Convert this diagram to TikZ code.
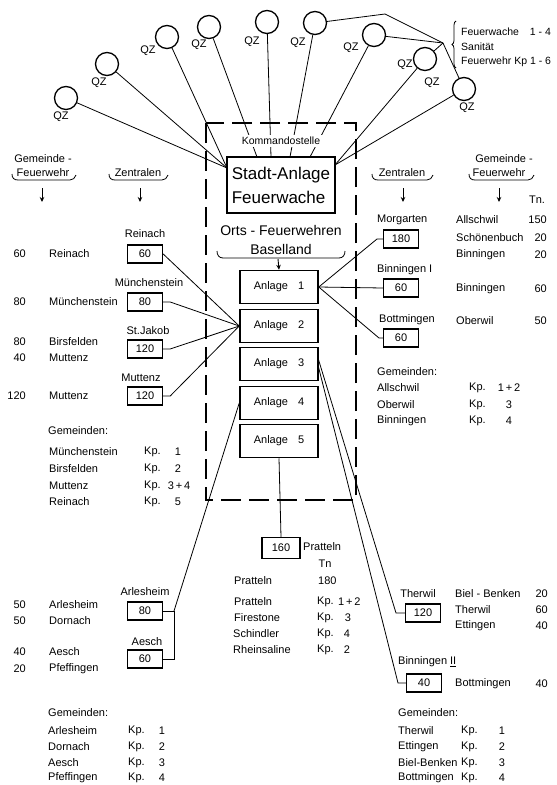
\documentclass[tikz,border=0pt]{standalone}
\usepackage{fontspec}
\setmainfont{Liberation Sans}
\usetikzlibrary{arrows.meta,decorations.pathreplacing}
\begin{document}
\begin{tikzpicture}[x=1pt,y=-1pt,
  every node/.style={font=\fontsize{11}{13}\selectfont, inner sep=0pt},
  qz/.style={circle,draw,line width=1.3pt,minimum size=23pt},
  numbox/.style={draw,line width=1.4pt,minimum width=35pt,minimum height=18pt},
  anl/.style={draw,line width=1.5pt,minimum width=78pt,minimum height=33pt},
  ln/.style={line width=0.8pt},
  lab/.style={anchor=west},
  num/.style={anchor=east},
  arr/.style={-{Stealth[length=5pt,width=4.5pt]},line width=0.9pt},
  brk/.style={line width=0.8pt},
]
\useasboundingbox (0,0) rectangle (557,785);

% ---------- dashed frame ----------
\draw[line width=1.1pt, dash pattern=on 20pt off 8pt] (206,123) rectangle (356,500);

% ---------- QZ circles ----------
\node[qz] (c1) at (66,98) {};
\node[qz] (c2) at (107,64) {};
\node[qz] (c3) at (167,37) {};
\node[qz] (c4) at (209,27) {};
\node[qz] (c5) at (267,22) {};
\node[qz] (c6) at (315,23) {};
\node[qz] (c7) at (374,35) {};
\node[qz] (c8) at (425,59) {};
\node[qz] (c9) at (464,89) {};
\node (q1) at (61,117) {QZ};
\node (q2) at (99,83) {QZ};
\node (q3) at (148,51) {QZ};
\node (q4) at (199,45) {QZ};
\node (q5) at (252,42) {QZ};
\node (q6) at (298,43) {QZ};
\node (q7) at (351,48) {QZ};
\node (q8) at (405,65) {QZ};
\node (q8b) at (432,83) {QZ};
\node (q9) at (467,108) {QZ};

% ---------- Stadt-Anlage ----------
\node[draw, line width=1.5pt, minimum width=108pt, minimum height=56pt, align=left,
      font=\fontsize{17}{24}\selectfont] (stadt) at (281,185) {Stadt-Anlage\\Feuerwache};
\coordinate (SL) at (227,168);
\coordinate (SR) at (335,165);
\coordinate (t4) at (257,157);
\coordinate (t5) at (271,157);
\coordinate (t6) at (290,157);
\coordinate (t7) at (310,157);
\draw[ln] (c1) -- (SL);
\draw[ln] (c2) -- (SL);
\draw[ln] (c3) -- (SL);
\draw[ln] (c4) -- (t4);
\draw[ln] (c5) -- (t5);
\draw[ln] (c6) -- (t6);
\draw[ln] (c7) -- (t7);
\draw[ln] (c8) -- (SR);
\draw[ln] (c9) -- (SR);
\node[fill=white, inner sep=2.5pt, font=\fontsize{10.5}{12}\selectfont] (komm) at (281,141) {Kommandostelle};

% ---------- Feuerwache bracket ----------
\coordinate (P) at (443,43);
\coordinate (k6) at (385,14);
\draw[ln] (c6) -- (k6) -- (P);
\draw[ln] (c7) -- (P);
\draw[ln] (c8) -- (P);
\draw[ln] (c9) -- (P);
\draw[ln, decorate, decoration={brace, amplitude=4pt}] (456,68) -- (456,21);
\node[lab, font=\fontsize{10.5}{12}\selectfont] (fw1) at (461,32) {Feuerwache\hspace{11pt}1 - 4};
\node[lab, font=\fontsize{10.5}{12}\selectfont] (fw2) at (461,47) {Sanität};
\node[lab, font=\fontsize{10.5}{12}\selectfont] (fw3) at (461,62) {Feuerwehr Kp 1 - 6};

% ---------- headers ----------
\node (hg1) at (43,159) {Gemeinde -};
\node (hf1) at (43,173) {Feuerwehr};
\draw[brk] (12,174) .. controls (12,178) and (14,180) .. (18,180) -- (70,180) .. controls (73,180) and (75,178) .. (76,175);
\draw[arr] (42,188) -- (42,202);
\node (hz1) at (138,173) {Zentralen};
\draw[brk] (109,174) .. controls (109,178) and (111,180) .. (115,180) -- (162,180) .. controls (165,180) and (167,178) .. (168,175);
\draw[arr] (140,188) -- (140,202);
\node (hz2) at (402,173) {Zentralen};
\draw[brk] (372,174) .. controls (372,178) and (374,180) .. (378,180) -- (427,180) .. controls (430,180) and (432,178) .. (433,175);
\draw[arr] (403,188) -- (403,202);
\node (hg2) at (504,159) {Gemeinde -};
\node (hf2) at (499,173) {Feuerwehr};
\draw[brk] (469,174) .. controls (469,178) and (471,180) .. (475,180) -- (528,180) .. controls (531,180) and (533,178) .. (534,175);
\draw[arr] (499,188) -- (499,202);
\node (htn) at (537,200) {Tn.};

% ---------- Orts-Feuerwehren ----------
\node[font=\fontsize{14}{19.5}\selectfont, align=center] (orts) at (281,240) {Orts - Feuerwehren\\Baselland};
\draw[brk] (217,251) .. controls (217,255) and (219,258) .. (223,258) -- (339,258) .. controls (343,258) and (345,255) .. (345,251);

% ---------- Anlagen ----------
\node[anl] (a1) at (279,287) {Anlage\hspace{10pt}1};
\node[anl] (a2) at (279,326) {Anlage\hspace{10pt}2};
\node[anl] (a3) at (279,364) {Anlage\hspace{10pt}3};
\node[anl] (a4) at (279,403) {Anlage\hspace{10pt}4};
\node[anl] (a5) at (279,441) {Anlage\hspace{10pt}5};
\coordinate (ob) at (278,259);
\draw[arr] (ob) -- (a1.north);

% ---------- left Zentralen ----------
\node (lr) at (145,234) {Reinach};
\node[numbox] (b60r) at (145,254) {60};
\node (lm) at (149,283) {Münchenstein};
\node[numbox] (b80m) at (145,302) {80};
\node (lj) at (148,331) {St.Jakob};
\node[numbox] (b120j) at (145,349) {120};
\node (lmu) at (141,378) {Muttenz};
\node[numbox] (b120m) at (145,396) {120};
\draw[ln] (b60r.east) -- (a2.west);
\draw[ln] (b80m.east) -- ++(7,0) -- (a2.west);
\draw[ln] (b120j.east) -- ++(7,0) -- (a2.west);
\draw[ln] (b120m.east) -- ++(7,0) -- (a2.west);

\node[num] (n1) at (26,254) {60};   \node[lab] (g1) at (49,254) {Reinach};
\node[num] (n2) at (26,302) {80};   \node[lab] (g2) at (49,302) {Münchenstein};
\node[num] (n3) at (26,342) {80};   \node[lab] (g3) at (49,342) {Birsfelden};
\node[num] (n4) at (26,358) {40};   \node[lab] (g4) at (49,358) {Muttenz};
\node[num] (n5) at (26,396) {120};  \node[lab] (g5) at (49,396) {Muttenz};

\node[lab] (lgem) at (48,431) {Gemeinden:};
\node[lab] (lk1) at (49,452) {Münchenstein}; \node[lab] (lkp1) at (144,452) {Kp.}; \node (lkn1) at (178,452) {1};
\node[lab] (lk2) at (49,469) {Birsfelden};   \node[lab] (lkp2) at (144,469) {Kp.}; \node (lkn2) at (178,469) {2};
\node[lab] (lk3) at (49,486) {Muttenz};      \node[lab] (lkp3) at (144,486) {Kp.}; \node (lkn3) at (179,486) {3\,+\,4};
\node[lab] (lk4) at (49,502) {Reinach};      \node[lab] (lkp4) at (144,502) {Kp.}; \node (lkn4) at (178,502) {5};

% ---------- right Zentralen ----------
\node[lab] (rm) at (377,220) {Morgarten};
\node[numbox] (b180) at (401,239) {180};
\node[lab] (rb) at (377,270) {Binningen I};
\node[numbox] (b60b) at (401,288) {60};
\node[lab] (rbo) at (379,320) {Bottmingen};
\node[numbox] (b60bo) at (401,338) {60};
\draw[ln] (a1.east) -- (377,239) -- (b180.west);
\draw[ln] (a1.east) -- (b60b.west);
\draw[ln] (a1.east) -- (379,338) -- (b60bo.west);

\node[lab] (rg1) at (456,220) {Allschwil};    \node[num] (rn1) at (547,220) {150};
\node[lab] (rg2) at (456,238) {Schönenbuch};  \node[num] (rn2) at (547,238) {20};
\node[lab] (rg3) at (456,255) {Binningen};    \node[num] (rn3) at (547,255) {20};
\node[lab] (rg4) at (456,289) {Binningen};    \node[num] (rn4) at (547,289) {60};
\node[lab] (rg5) at (456,321) {Oberwil};      \node[num] (rn5) at (547,321) {50};

\node[lab] (rgem) at (377,372) {Gemeinden:};
\node[lab] (rk1) at (377,388) {Allschwil}; \node[lab] (rkp1) at (469,388) {Kp.}; \node (rkn1) at (509,388) {1\,+\,2};
\node[lab] (rk2) at (377,405) {Oberwil};   \node[lab] (rkp2) at (469,405) {Kp.}; \node (rkn2) at (509,405) {3};
\node[lab] (rk3) at (377,421) {Binningen}; \node[lab] (rkp3) at (469,421) {Kp.}; \node (rkn3) at (509,421) {4};

% ---------- Pratteln ----------
\node[numbox, minimum width=38pt, minimum height=21pt] (b160) at (281,548) {160};
\draw[ln] (a5.south) -- (b160.north);
\node[lab] (pl) at (303,547) {Pratteln};
\node (ptn) at (325,564) {Tn};
\node[lab] (pg) at (234,581) {Pratteln}; \node[lab] (pn) at (318,581) {180};
\node[lab] (pk1) at (234,602) {Pratteln};    \node[lab] (pkp1) at (317,602) {Kp.}; \node[lab] (pkn1) at (338,602) {1\,+\,2};
\node[lab] (pk2) at (234,618) {Firestone};   \node[lab] (pkp2) at (317,618) {Kp.}; \node (pkn2) at (348,618) {3};
\node[lab] (pk3) at (233,634) {Schindler};   \node[lab] (pkp3) at (317,634) {Kp.}; \node (pkn3) at (347,634) {4};
\node[lab] (pk4) at (233,650) {Rheinsaline}; \node[lab] (pkp4) at (317,650) {Kp.}; \node (pkn4) at (347,650) {2};

% ---------- Arlesheim / Aesch ----------
\node (la) at (145,592) {Arlesheim};
\node[numbox] (b80a) at (145,611) {80};
\node (lae) at (147,642) {Aesch};
\node[numbox] (b60a) at (145,659) {60};
\coordinate (J) at (174,611);
\draw[ln] (b80a.east) -- (J) |- (b60a.east);
\draw[ln] (a4.west) -- (J);

\node[num] (an1) at (26,605) {50}; \node[lab] (ag1) at (49,605) {Arlesheim};
\node[num] (an2) at (26,621) {50}; \node[lab] (ag2) at (49,621) {Dornach};
\node[num] (an3) at (26,652) {40}; \node[lab] (ag3) at (49,652) {Aesch};
\node[num] (an4) at (26,669) {20}; \node[lab] (ag4) at (49,669) {Pfeffingen};

\node[lab] (agem) at (48,713) {Gemeinden:};
\node[lab] (ak1) at (48,731) {Arlesheim};  \node[lab] (akp1) at (128,731) {Kp.}; \node (akn1) at (162,731) {1};
\node[lab] (ak2) at (48,747) {Dornach};    \node[lab] (akp2) at (128,747) {Kp.}; \node (akn2) at (162,747) {2};
\node[lab] (ak3) at (48,763) {Aesch};      \node[lab] (akp3) at (128,763) {Kp.}; \node (akn3) at (162,763) {3};
\node[lab] (ak4) at (48,778) {Pfeffingen}; \node[lab] (akp4) at (128,778) {Kp.}; \node (akn4) at (162,778) {4};

% ---------- Therwil / Binningen II ----------
\node (lt) at (418,594) {Therwil};
\node[numbox] (b120t) at (423,613) {120};
\node[lab] (lb2) at (398,662) {Binningen \underline{II}};
\node[numbox] (b40) at (424,683) {40};
\coordinate (a3t) at (318,358);
\coordinate (a3b) at (318,365);
\draw[ln] (a3t) -- (396,613) -- (b120t.west);
\draw[ln] (a3b) -- (398,683) -- (b40.west);

\node[lab] (tg1) at (455,594) {Biel - Benken}; \node[num] (tn1) at (548,594) {20};
\node[lab] (tg2) at (455,610) {Therwil};       \node[num] (tn2) at (548,610) {60};
\node[lab] (tg3) at (455,626) {Ettingen};      \node[num] (tn3) at (548,626) {40};
\node[lab] (tg4) at (455,684) {Bottmingen};    \node[num] (tn4) at (548,684) {40};

\node[lab] (tgem) at (398,713) {Gemeinden:};
\node[lab] (tk1) at (398,731) {Therwil};     \node[lab] (tkp1) at (461,731) {Kp.}; \node (tkn1) at (502,731) {1};
\node[lab] (tk2) at (398,747) {Ettingen};    \node[lab] (tkp2) at (461,747) {Kp.}; \node (tkn2) at (502,747) {2};
\node[lab] (tk3) at (398,763) {Biel-Benken}; \node[lab] (tkp3) at (461,763) {Kp.}; \node (tkn3) at (502,763) {3};
\node[lab] (tk4) at (398,778) {Bottmingen};  \node[lab] (tkp4) at (461,778) {Kp.}; \node (tkn4) at (502,778) {4};

\end{tikzpicture}
\end{document}
